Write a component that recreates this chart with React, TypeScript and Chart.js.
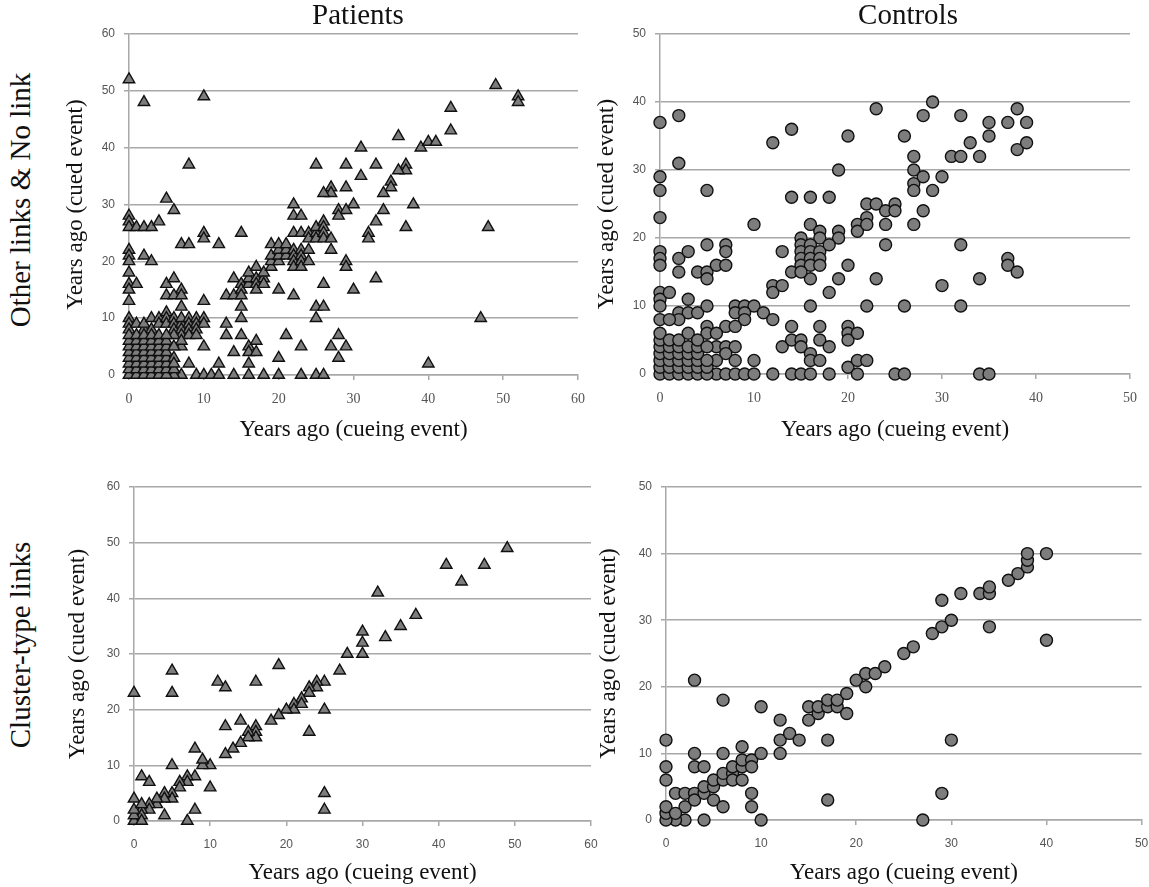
import React, { useEffect, useRef } from 'react';
import { Chart, registerables } from 'chart.js';

Chart.register(...registerables);

type Pt = [number, number];

// Patients – Other links & No link
const patientsOther: Pt[] = [
  [0,52],[2,48],[10,49],[49,51],[52,49],[52,48],[43,47],[43,43],[36,42],[39,40],[40,41],[41,41],[31,40],
  [8,37],[25,37],[29,37],[33,37],[37,37],[37,36],[36,36],[31,35],[35,34],[35,33],[34,32],[27,33],[27,32],
  [26,32],[29,33],[30,30],[28,29],[29,29],[34,29],[38,30],[33,27],[37,26],[48,26],[32,25],[32,24],[22,30],
  [22,28],[23,28],
  [13,14],[14,14],[14,17],[15,16],[15,15],[15,14],[16,16],[16,17],[16,18],[17,19],[17,17],[17,16],[17,15],
  [18,17],[18,16],[18,18],[19,19],[19,20],[19,21],[19,23],[20,20],[20,21],[20,22],[20,23],[21,21],[21,22],
  [21,23],[22,22],[22,21],[22,20],[22,19],[23,22],[23,21],[23,20],[23,19],[24,20],[24,22],[22,25],[23,25],
  [24,25],[24,24],[25,25],[25,26],[25,24],[26,27],[26,26],[26,25],[26,24],[27,22],[27,24],[28,28],
  [5,31],[6,29],[0,28],[0,27],[0,26],[1,26],[2,26],[3,26],[4,27],[10,25],[10,24],[15,25],[7,23],[8,23],
  [12,23],[0,22],[0,21],[0,20],[2,21],[3,20],[0,18],[0,16],[1,16],[0,15],[0,13],[5,16],[6,17],[7,15],
  [5,14],[6,14],[7,14],[7,12],[10,13],
  [20,15],[22,14],[26,16],[29,20],[29,19],[30,15],[33,17],[25,12],[26,12],[25,10],[15,12],[15,10],[47,10],
  [13,9],[13,7],[14,4],[15,7],[16,5],[16,4],[17,6],[16,2],[17,4],[21,7],[20,3],[23,5],[27,5],[28,7],[28,3],
  [29,5],[40,2],[8,2],[12,2],
  [9,0],[10,0],[11,0],[12,0],[14,0],[16,0],[18,0],[20,0],[23,0],[25,0],[26,0],[7,0],[6,0],
  [0,10],[0,9],[0,8],[1,9],[2,8],[2,9],[3,10],[3,8],[4,10],[4,9],[5,11],[5,10],[5,9],[6,10],[6,9],[6,8],
  [7,9],[7,10],[7,8],[8,10],[8,9],[8,8],[9,10],[9,9],[9,8],[10,10],[10,9],[7,7],[8,7],[9,7],[10,5],[7,5],
  [6,7],[7,6],
  [0,0],[0,1],[0,2],[0,3],[0,4],[0,5],[0,6],[0,7],[1,0],[1,1],[1,2],[1,3],[1,4],[1,5],[1,6],[1,7],
  [2,0],[2,1],[2,2],[2,3],[2,4],[2,5],[2,6],[2,7],[3,0],[3,1],[3,2],[3,3],[3,4],[3,5],[3,6],[3,7],
  [4,0],[4,1],[4,2],[4,3],[4,4],[4,5],[4,6],[4,7],[5,0],[5,1],[5,2],[5,3],[5,4],[5,5],[5,6],[5,7],
  [6,1],[6,3],[6,5],[6,2],
];

// Controls – Other links & No link
const controlsOther: Pt[] = [
  [0,37],[2,38],[2,31],[0,29],[0,27],[0,23],[5,27],[12,34],[14,36],[20,35],[23,39],[26,35],[28,38],
  [29,40],[32,38],[38,39],[39,37],[37,37],[35,37],[35,35],[33,34],[31,32],[32,32],[34,32],[38,33],[39,34],
  [29,27],[30,29],[27,32],[27,30],[27,28],[27,27],[28,29],[19,30],[14,26],[16,26],[18,26],[22,25],[23,25],
  [25,25],[24,24],[25,24],[22,23],[28,24],[27,22],[24,22],
  [10,22],[16,22],[17,21],[17,20],[19,21],[19,20],[21,22],[21,21],[22,22],[24,19],[15,20],[15,19],[15,18],
  [15,17],[15,16],[16,19],[16,18],[16,17],[16,16],[17,18],[17,17],[17,16],[18,19],[20,16],[16,14],[14,15],
  [15,15],[13,18],[12,13],[12,12],[13,13],[19,14],[18,12],[23,14],
  [0,18],[0,17],[0,16],[2,17],[2,15],[3,18],[5,19],[4,15],[5,15],[5,14],[6,16],[7,19],[7,18],[7,16],
  [0,12],[0,11],[0,10],[1,12],[0,8],[3,11],[2,9],[3,9],[4,9],[5,10],[2,8],[1,8],
  [32,19],[37,17],[37,16],[38,15],[34,14],[30,13],[26,10],[32,10],[22,10],[16,10],
  [8,10],[9,10],[10,10],[8,9],[9,9],[11,9],[12,8],[9,8],
  [5,7],[5,6],[7,7],[8,7],[6,6],[6,4],[7,4],[8,4],[7,3],[6,2],[8,2],[10,2],[13,4],[14,7],[14,5],[15,5],
  [15,4],[16,3],[16,2],[17,2],[17,5],[17,7],[18,4],[20,7],[20,6],[20,5],[21,6],[20,1],[21,0],[21,2],[22,2],
  [6,0],[7,0],[8,0],[9,0],[10,0],[12,0],[14,0],[15,0],[16,0],[18,0],[25,0],[26,0],[34,0],[35,0],
  [0,0],[0,1],[0,2],[0,3],[0,4],[0,5],[0,6],[1,0],[1,1],[1,2],[1,3],[1,4],[1,5],[2,0],[2,1],[2,2],[2,3],
  [2,4],[2,5],[3,0],[3,1],[3,2],[3,3],[3,4],[3,6],[4,0],[4,1],[4,2],[4,3],[4,4],[4,5],[5,0],[5,1],[5,2],[5,4],
];

// Patients – Cluster-type links
const patientsCluster: Pt[] = [
  [0,23],[5,27],[5,23],[11,25],[12,24],[16,25],[19,28],[32,41],[41,46],[43,43],[46,46],[49,49],[37,37],
  [35,35],[33,33],[30,34],[30,32],[30,30],[28,30],[27,27],[25,25],[24,25],[24,24],[23,24],[23,23],[22,22],
  [21,21],[21,20],[20,20],[19,19],[18,18],[25,20],[23,16],[16,17],[16,16],[16,15],[15,16],[15,15],[14,18],
  [14,14],[13,13],[12,12],[12,17],[10,10],[9,10],[9,11],[8,13],[8,8],[7,8],[7,7],[6,7],[6,6],[5,5],[5,4],
  [4,5],[4,4],[3,3],[3,4],[2,3],[2,2],[1,2],[1,1],[0,0],[0,1],[0,2],[0,4],[1,3],[1,8],[2,7],[5,10],[10,6],
  [8,2],[7,0],[4,1],[25,5],[25,2],[1,0],[22,21],
];

// Controls – Cluster-type links
const controlsCluster: Pt[] = [
  [3,21],[6,18],[10,17],[0,12],[0,8],[0,6],[3,10],[3,8],[4,8],[6,10],[1,4],[2,4],[3,4],[2,2],[3,3],[4,4],
  [4,5],[5,5],[5,6],[5,3],[6,6],[6,7],[7,7],[7,8],[7,6],[8,8],[8,9],[8,11],[8,6],[9,9],[9,8],[9,4],[9,2],
  [10,10],[6,2],[4,0],[10,0],[2,0],[1,0],[0,0],[0,1],[0,2],[1,1],[12,10],[12,12],[12,15],[13,13],[14,12],
  [15,15],[15,17],[16,16],[16,17],[17,17],[17,18],[18,17],[18,18],[19,19],[19,16],[17,12],[17,3],[20,21],
  [21,22],[21,20],[22,22],[23,23],[25,25],[26,26],[28,28],[29,29],[30,30],[29,33],[31,34],[33,34],[34,34],
  [34,35],[34,29],[36,36],[37,37],[38,38],[38,39],[38,40],[40,40],[40,27],[30,12],[29,4],[27,0],
];

const patientsTicks = [0, 10, 20, 30, 40, 50, 60];
const controlsTicks = [0, 10, 20, 30, 40, 50];
const rowLabels = ['Other links & No link', 'Cluster-type links'];
const colLabels = ['Patients', 'Controls'];
const xTitle = 'Years ago (cueing event)';
const yTitle = 'Years ago (cued event)';

const SERIF = '"Times New Roman", "Liberation Serif", serif';
const SANS = 'Arial, "Liberation Sans", sans-serif';
const GRID = '#a8a8a8';

interface PanelSpec {
  data: Pt[];
  ticks: number[];
  shape: 'triangle' | 'circle';
  radius: number;
  left: number; top: number; w: number; h: number;
  yw: number; xh: number; padTop: number; padRight: number;
  xTickFont: string; xTickSize: number;
}

const panels: PanelSpec[] = [
  { data: patientsOther, ticks: patientsTicks, shape: 'triangle', radius: 6.6,
    left: 62, top: 22, w: 530, h: 422, yw: 67, xh: 69, padTop: 12, padRight: 14, xTickFont: SERIF, xTickSize: 14 },
  { data: controlsOther, ticks: controlsTicks, shape: 'circle', radius: 6,
    left: 593, top: 22, w: 551, h: 422, yw: 67, xh: 70, padTop: 12, padRight: 14, xTickFont: SERIF, xTickSize: 14 },
  { data: patientsCluster, ticks: patientsTicks, shape: 'triangle', radius: 6.6,
    left: 64, top: 475, w: 541, h: 412, yw: 70, xh: 66, padTop: 12, padRight: 14, xTickFont: SANS, xTickSize: 12 },
  { data: controlsCluster, ticks: controlsTicks, shape: 'circle', radius: 6,
    left: 595, top: 475, w: 554, h: 412, yw: 71, xh: 67, padTop: 12, padRight: 7, xTickFont: SANS, xTickSize: 12 },
];

function Panel({ p }: { p: PanelSpec }) {
  const ref = useRef<HTMLCanvasElement>(null);
  useEffect(() => {
    const max = p.ticks[p.ticks.length - 1];
    const chart = new Chart(ref.current as HTMLCanvasElement, {
      type: 'scatter',
      data: {
        datasets: [{
          data: p.data.map(([x, y]) => ({ x, y })),
          pointStyle: p.shape,
          pointRadius: p.radius,
          pointHoverRadius: p.radius,
          backgroundColor: '#7d7d7d',
          borderColor: '#101010',
          borderWidth: 1.4,
          clip: false,
        } as any],
      },
      options: {
        responsive: false,
        animation: false,
        devicePixelRatio: 1,
        events: [],
        layout: { padding: { left: 0, top: p.padTop, right: p.padRight, bottom: 0 } },
        plugins: { legend: { display: false }, tooltip: { enabled: false } },
        scales: {
          x: {
            type: 'linear', min: 0, max,
            afterBuildTicks: (s: any) => { s.ticks = p.ticks.map((v) => ({ value: v })); },
            afterFit: (s: any) => { s.height = p.xh; s.paddingLeft = 0; s.paddingRight = 0; },
            ticks: { color: '#555', font: { family: p.xTickFont, size: p.xTickSize }, padding: 11, maxRotation: 0 },
            grid: { drawOnChartArea: false, drawTicks: true, tickLength: 5, color: GRID, lineWidth: 1.5 },
            border: { display: true, color: GRID, width: 1.5 },
            title: { display: true, text: xTitle, color: '#111', font: { family: SERIF, size: 23 }, padding: 0 },
          },
          y: {
            type: 'linear', min: 0, max,
            afterBuildTicks: (s: any) => { s.ticks = p.ticks.map((v) => ({ value: v })); },
            afterFit: (s: any) => { s.width = p.yw; s.paddingTop = 0; s.paddingBottom = 0; },
            ticks: { color: '#555', font: { family: SANS, size: 12 }, padding: 9 },
            grid: { color: GRID, lineWidth: 1.5, tickLength: 5 },
            border: { display: true, color: GRID, width: 1.5 },
            title: { display: true, text: yTitle, color: '#111', font: { family: SERIF, size: 23 }, padding: 0 },
          },
        },
      } as any,
    });
    return () => chart.destroy();
  }, [p]);
  return (
    <canvas
      ref={ref}
      width={p.w}
      height={p.h}
      style={{ position: 'absolute', left: p.left, top: p.top, width: p.w, height: p.h }}
    />
  );
}

const textBase: React.CSSProperties = {
  position: 'absolute',
  fontFamily: SERIF,
  color: '#111',
  whiteSpace: 'nowrap',
  lineHeight: 1,
};

export default function App() {
  return (
    <div style={{ position: 'absolute', left: 0, top: 0, width: 1149, height: 887, background: '#fff', overflow: 'hidden' }}>
      {panels.map((p, i) => <Panel key={i} p={p} />)}
      <div style={{ ...textBase, fontSize: 29, left: 358, top: 14, transform: 'translate(-50%, -50%)' }}>{colLabels[0]}</div>
      <div style={{ ...textBase, fontSize: 29, left: 908, top: 14, transform: 'translate(-50%, -50%)' }}>{colLabels[1]}</div>
      <div style={{ ...textBase, fontSize: 29, left: 20, top: 200, transform: 'translate(-50%, -50%) rotate(-90deg)' }}>{rowLabels[0]}</div>
      <div style={{ ...textBase, fontSize: 29, left: 20, top: 645, transform: 'translate(-50%, -50%) rotate(-90deg)' }}>{rowLabels[1]}</div>
    </div>
  );
}
